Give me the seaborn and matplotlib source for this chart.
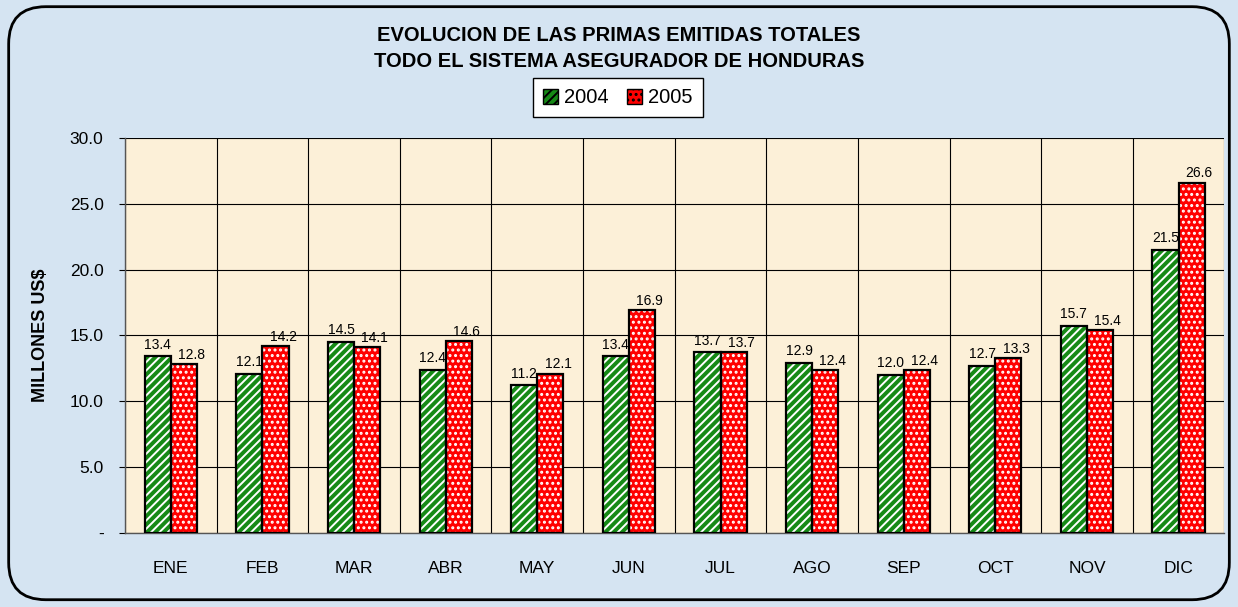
import matplotlib
matplotlib.use("Agg")
import matplotlib.pyplot as plt
import seaborn as sns
import pandas as pd
import numpy as np
from matplotlib.patches import Rectangle, FancyBboxPatch
from matplotlib.ticker import FuncFormatter, FixedLocator

months = ["ENE", "FEB", "MAR", "ABR", "MAY", "JUN", "JUL", "AGO", "SEP", "OCT", "NOV", "DIC"]
v2004 = [13.4, 12.1, 14.5, 12.4, 11.2, 13.4, 13.7, 12.9, 12.0, 12.7, 15.7, 21.5]
v2005 = [12.8, 14.2, 14.1, 14.6, 12.1, 16.9, 13.7, 12.4, 12.4, 13.3, 15.4, 26.6]
labels2004 = ["13.4", "12.1", "14.5", "12.4", "11.2", "13.4", "13.7", "12.9", "12.0", "12.7", "15.7", "21.5"]
labels2005 = ["12.8", "14.2", "14.1", "14.6", "12.1", "16.9", "13.7", "12.4", "12.4", "13.3", "15.4", "26.6"]
years = ["2004", "2005"]

df = pd.DataFrame({
    "mes": months * 2,
    "valor": v2004 + v2005,
    "anio": [years[0]] * 12 + [years[1]] * 12,
})

sns.set_style("white")
plt.rcParams['font.family'] = ['Liberation Sans', 'DejaVu Sans']
plt.rcParams['text.color'] = 'black'
plt.rcParams['axes.labelcolor'] = 'black'
plt.rcParams['xtick.color'] = 'black'
plt.rcParams['ytick.color'] = 'black'
plt.rcParams['hatch.linewidth'] = 1.4

fig = plt.figure(figsize=(12.38, 6.07), dpi=100)
fig.patch.set_facecolor("#d5e4f2")
ax = fig.add_axes([0.101, 0.122, 0.888, 0.651])
ax.set_facecolor("#fcf0d8")

colors = {"2004": "#168a16", "2005": "#ff0000"}
sns.barplot(data=df, x="mes", y="valor", hue="anio", order=months, hue_order=years,
            palette=colors, width=0.57, gap=0, ax=ax, legend=False, saturation=1)

hatches = {"2004": "////", "2005": "..."}
offsets = {"2004": (0, 3.5), "2005": (5.5, 1.5)}
for cont, yr, labs in zip(ax.containers, years, [labels2004, labels2005]):
    for p, lab in zip(cont.patches, labs):
        p.set_hatch(hatches[yr])
        p.set_edgecolor("white")
        p.set_linewidth(0)
        p.set_zorder(2)
        r = Rectangle((p.get_x(), p.get_y()), p.get_width(), p.get_height(),
                      fill=False, edgecolor="black", linewidth=1.6, zorder=3)
        ax.add_patch(r)
        ax.annotate(lab, xy=(p.get_x() + p.get_width() / 2, p.get_y() + p.get_height()),
                    xytext=offsets[yr], textcoords="offset points", ha="center", va="bottom",
                    fontsize=10)

ax.set_ylim(0, 30)
ax.set_xlim(-0.5, 11.5)
ax.yaxis.set_major_locator(FixedLocator([0, 5, 10, 15, 20, 25, 30]))
ax.yaxis.set_major_formatter(FuncFormatter(lambda v, p: "-" if v == 0 else f"{v:.1f}"))
ax.xaxis.set_minor_locator(FixedLocator(np.arange(-0.5, 12, 1)))
ax.grid(True, axis="y", which="major", color="black", linewidth=0.8, zorder=0)
ax.grid(True, axis="x", which="minor", color="black", linewidth=0.8, zorder=0)
ax.set_axisbelow(True)
ax.tick_params(axis="x", which="major", length=0, labelsize=12.5, pad=20)
ax.tick_params(axis="x", which="minor", length=5, width=0.8, color="black", direction="out")
ax.tick_params(axis="y", length=4.5, width=0.8, color="black", direction="out", left=True,
               labelsize=12.5, pad=11)
for s in ["top", "right"]:
    ax.spines[s].set_visible(False)
for s in ["left", "bottom"]:
    ax.spines[s].set_color("#555555")
    ax.spines[s].set_linewidth(1.0)
ax.set_xlabel("")
ax.set_ylabel("MILLONES US$", fontsize=13, fontweight="bold", labelpad=15)

fig.text(0.5, 0.942, "EVOLUCION DE LAS PRIMAS EMITIDAS TOTALES", ha="center", va="center",
         fontsize=14.5, fontweight="bold")
fig.text(0.5, 0.898, "TODO EL SISTEMA ASEGURADOR DE HONDURAS", ha="center", va="center",
         fontsize=14.5, fontweight="bold")

handles = [Rectangle((0, 0), 1, 1, facecolor=colors[y], edgecolor="black", hatch=hatches[y], linewidth=1) for y in years]
leg = fig.legend(handles, years, loc="center", bbox_to_anchor=(0.499, 0.839), ncol=2, frameon=True,
                 fontsize=14.5, handlelength=0.75, handleheight=0.75, handletextpad=0.3, columnspacing=0.9,
                 fancybox=False, borderpad=0.5)
leg.get_frame().set_edgecolor("black")
leg.get_frame().set_facecolor("white")
leg.get_frame().set_alpha(1)
leg.get_frame().set_linewidth(1.0)

border = FancyBboxPatch((0.007, 0.012), 0.986, 0.977, boxstyle="round,pad=0,rounding_size=0.03",
                        transform=fig.transFigure, facecolor="none", edgecolor="black", linewidth=2, zorder=10,
                        mutation_aspect=1238/607)
fig.patches.append(border)

fig.savefig("out.png", dpi=100, facecolor=fig.get_facecolor())
